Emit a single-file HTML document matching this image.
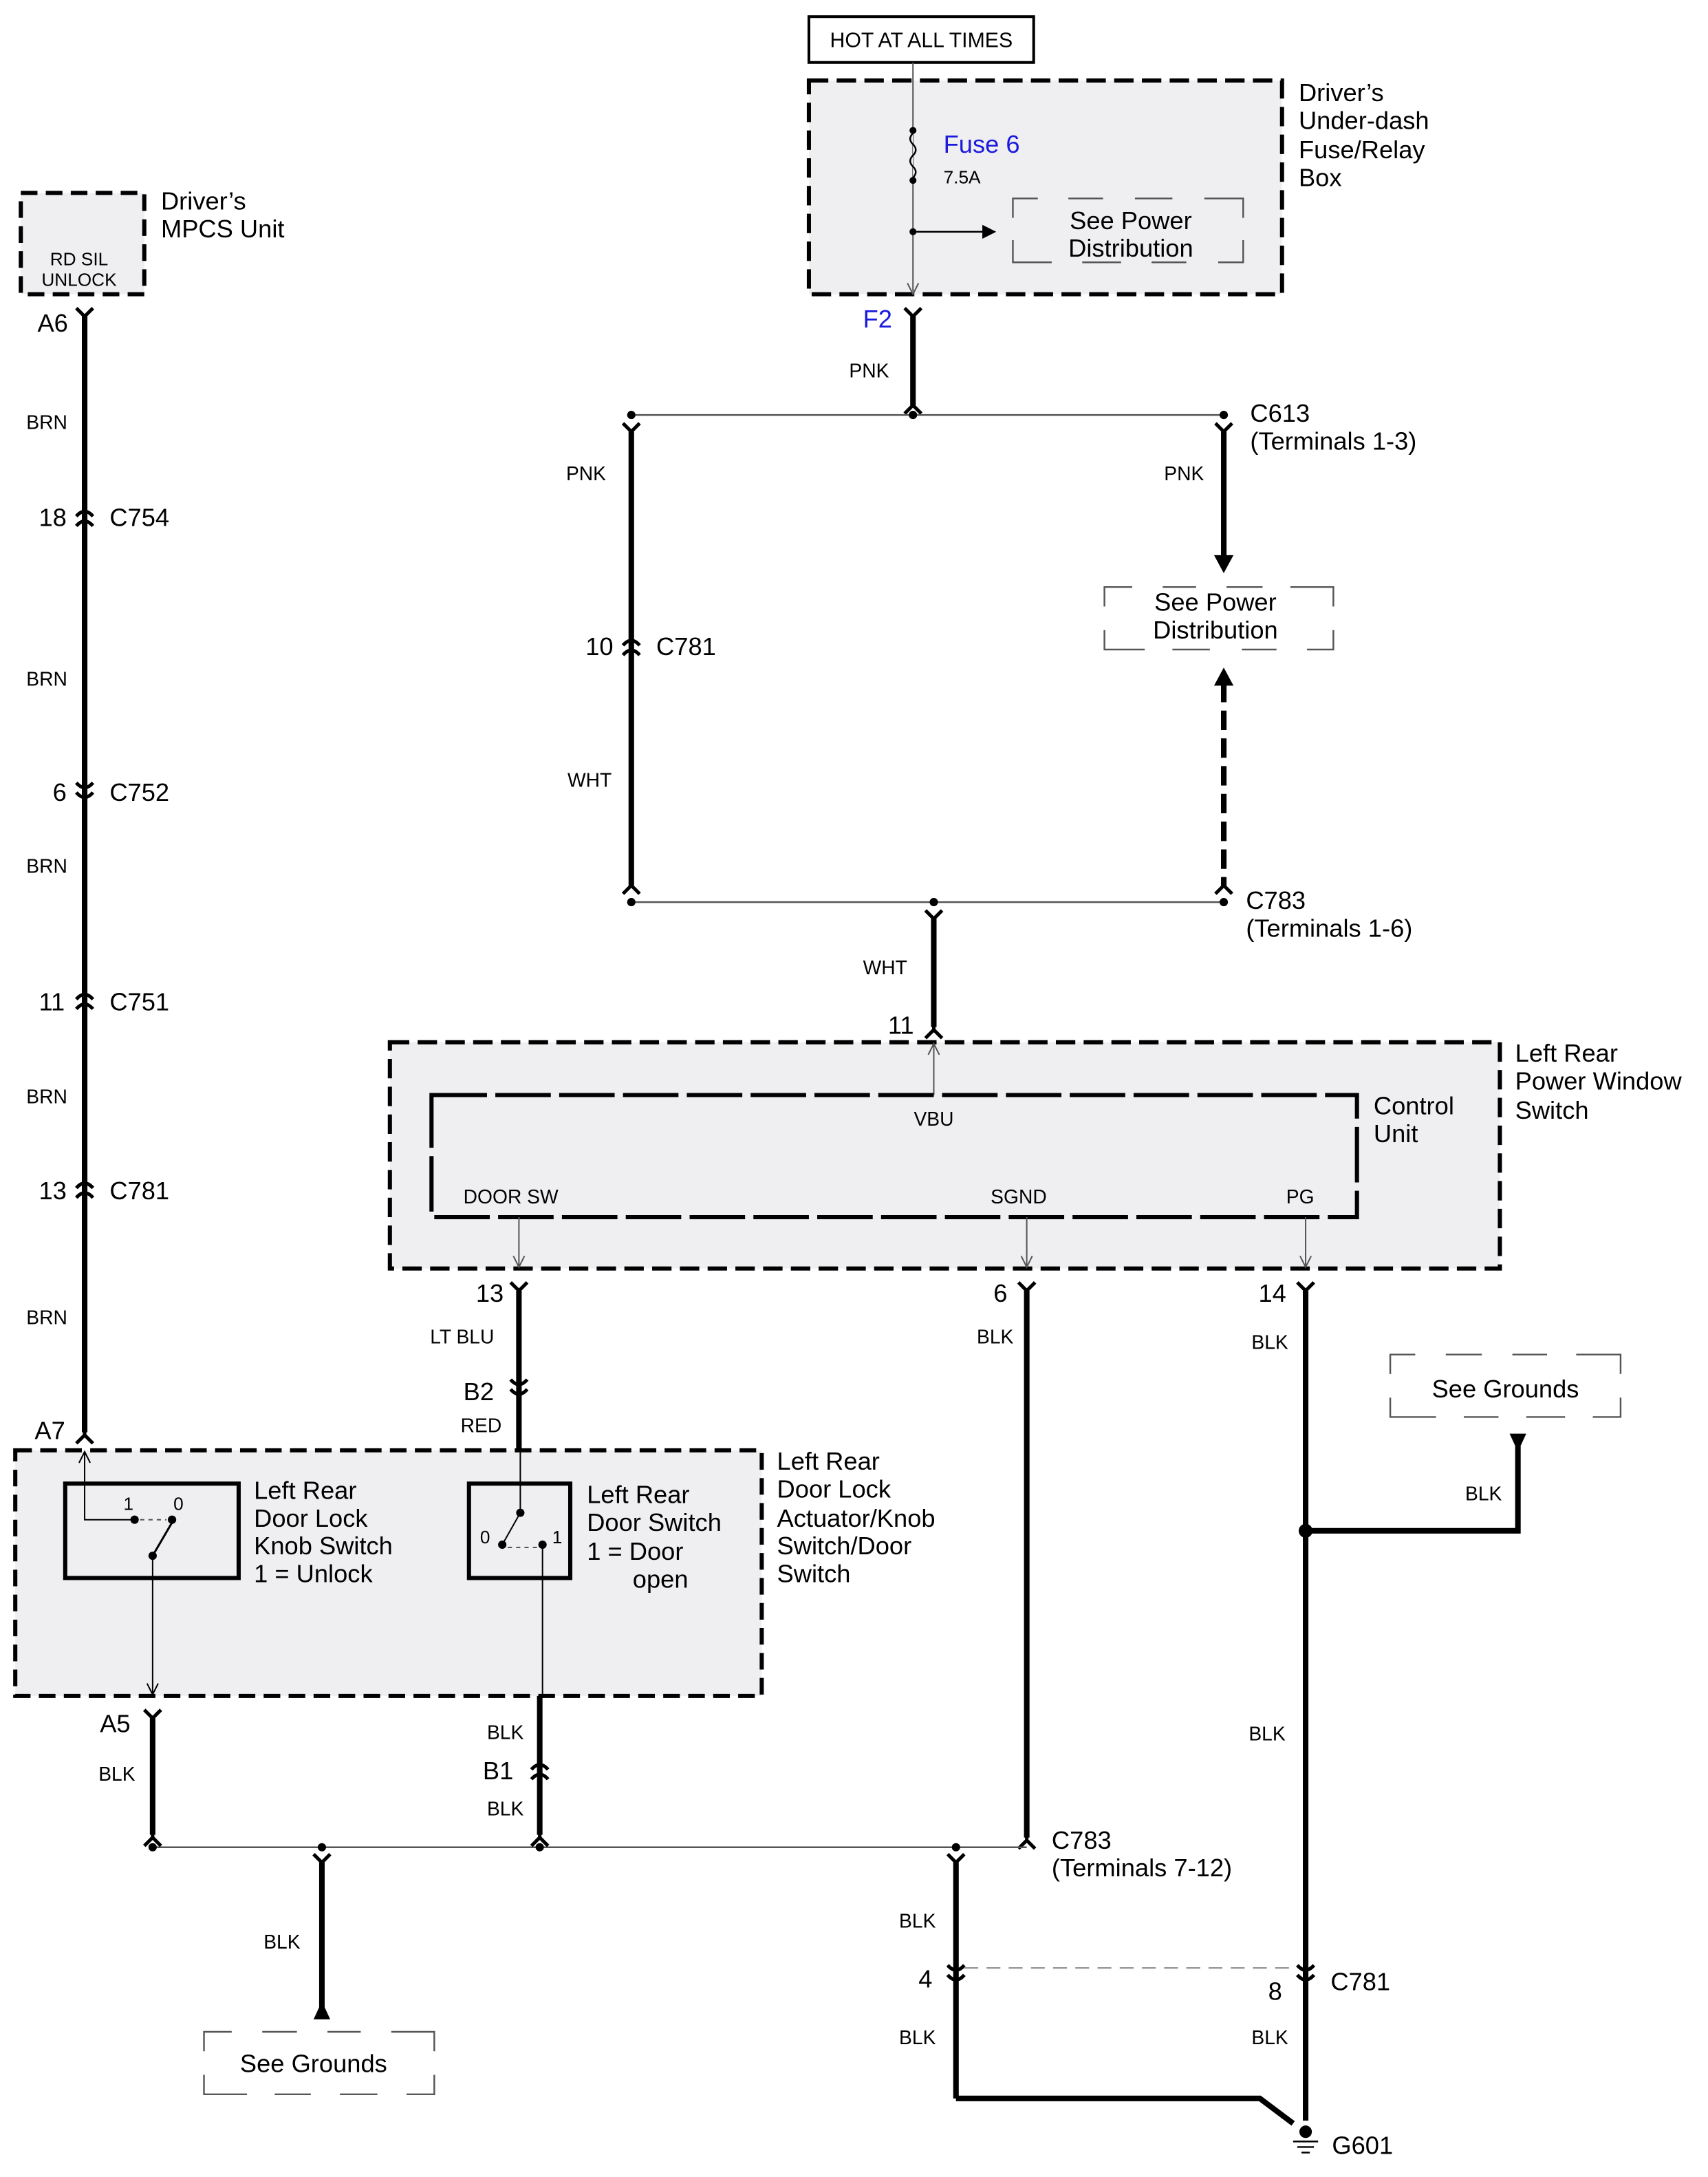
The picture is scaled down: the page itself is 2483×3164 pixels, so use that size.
<!DOCTYPE html>
<html><head><meta charset="utf-8"><style>html,body{margin:0;padding:0;background:#fff}svg{display:block}</style></head><body>
<svg width="2483" height="3164" viewBox="0 0 1231 1568.6" preserveAspectRatio="none" xmlns="http://www.w3.org/2000/svg" font-family="Liberation Sans, sans-serif">
<defs>
<path id="fd" d="M-6,-6 L0,0 L6,-6 M0,0 L0,6" fill="none" stroke="#000" stroke-width="2.5"/>
<path id="fu" d="M-6,6 L0,0 L6,6 M0,0 L0,-6" fill="none" stroke="#000" stroke-width="2.5"/>
<path id="cu" d="M-6,-1 Q0,-8 6,-1 M-6,6 Q0,-1 6,6" fill="none" stroke="#000" stroke-width="2.5"/>
<path id="cd" d="M-6,-6 Q0,1 6,-6 M-6,1 Q0,8 6,1" fill="none" stroke="#000" stroke-width="2.5"/>
</defs>
<rect width="1231" height="1568.6" fill="#fff"/>
<g font-size="18" fill="#000">
<!-- top fuse box -->
<rect x="583" y="12" width="162" height="33" fill="#fff" stroke="#000" stroke-width="2"/>
<text x="664" y="34" font-size="15" text-anchor="middle">HOT AT ALL TIMES</text>
<rect x="583" y="58" width="341" height="154" fill="#efeef0" stroke="#000" stroke-width="3" stroke-dasharray="14,6"/>
<line x1="658" y1="45" x2="658" y2="210" stroke="#555" stroke-width="1"/>
<path d="M654,204 L658,212 L662,204" fill="none" stroke="#555" stroke-width="1"/>
<circle cx="658" cy="94" r="2.5"/><circle cx="658" cy="130" r="2.5"/>
<path d="M658,96 q-4,4 0,8 q4,4 0,8 q-4,4 0,8 q4,4 0,8" fill="#efeef0" stroke="#000" stroke-width="1.2"/>
<circle cx="658" cy="167" r="2.5"/>
<line x1="658" y1="167" x2="710" y2="167" stroke="#000" stroke-width="1.2"/>
<path d="M708,162 L718,167 L708,172 Z"/>
<text x="680" y="110" fill="#1a1adc">Fuse 6</text>
<text x="680" y="132" font-size="13">7.5A</text>
<path d="M730,157 V143 H748 M770,143 H795 M818,143 H845 M868,143 H896 V157 M896,173 V189 H878 M855,189 H830 M808,189 H780 M758,189 H730 V173" fill="none" stroke="#555" stroke-width="1.2"/>
<text x="815" y="165" text-anchor="middle">See Power</text>
<text x="815" y="185" text-anchor="middle">Distribution</text>
<text x="936" y="73">Driver’s</text><text x="936" y="93">Under-dash</text><text x="936" y="114">Fuse/Relay</text><text x="936" y="134">Box</text>
<text x="622" y="236" fill="#1a1adc">F2</text>
<use href="#fd" x="658" y="228"/>
<line x1="658" y1="228" x2="658" y2="292" stroke="#000" stroke-width="4"/>
<use href="#fu" x="658" y="292"/>
<text x="612" y="272" font-size="14">PNK</text>
<line x1="455" y1="299" x2="882" y2="299" stroke="#555" stroke-width="1.2"/>
<circle cx="455" cy="299" r="3"/><circle cx="658" cy="299" r="3"/><circle cx="882" cy="299" r="3"/>
<!-- left PNK/WHT -->
<use href="#fd" x="455" y="311"/>
<line x1="455" y1="311" x2="455" y2="638" stroke="#000" stroke-width="4"/>
<use href="#cu" x="455" y="466"/>
<use href="#fu" x="455" y="638"/>
<text x="408" y="346" font-size="14">PNK</text>
<text x="422" y="472">10</text><text x="473" y="472">C781</text>
<text x="409" y="567" font-size="14">WHT</text>
<!-- right PNK -->
<use href="#fd" x="882" y="311"/>
<line x1="882" y1="311" x2="882" y2="402" stroke="#000" stroke-width="4"/>
<path d="M875,400 L882,413 L889,400 Z"/>
<text x="839" y="346" font-size="14">PNK</text>
<text x="901" y="304">C613</text><text x="901" y="324">(Terminals 1-3)</text>
<path d="M796,437 V423 H816 M838,423 H862 M884,423 H910 M930,423 H961 V437 M961,454 V468 H942 M920,468 H895 M872,468 H845 M825,468 H796 V454" fill="none" stroke="#555" stroke-width="1.2"/>
<text x="876" y="440" text-anchor="middle">See Power</text>
<text x="876" y="460" text-anchor="middle">Distribution</text>
<path d="M875,494 L882,481 L889,494 Z"/>
<line x1="882" y1="492" x2="882" y2="638" stroke="#000" stroke-width="4" stroke-dasharray="14,6"/>
<use href="#fu" x="882" y="638"/>
<text x="898" y="655">C783</text><text x="898" y="675">(Terminals 1-6)</text>
<line x1="455" y1="650" x2="882" y2="650" stroke="#555" stroke-width="1.2"/>
<circle cx="455" cy="650" r="3"/><circle cx="673" cy="650" r="3"/><circle cx="882" cy="650" r="3"/>
<use href="#fd" x="673" y="662"/>
<line x1="673" y1="662" x2="673" y2="740" stroke="#000" stroke-width="4"/>
<use href="#fu" x="673" y="742"/>
<text x="622" y="702" font-size="14">WHT</text>
<text x="640" y="745">11</text>
<line x1="673" y1="752" x2="673" y2="789" stroke="#555" stroke-width="1"/>
<path d="M669,760 L673,752 L677,760" fill="none" stroke="#555" stroke-width="1"/>
<!-- power window switch -->
<rect x="281" y="751" width="800" height="163" fill="#efeef0" stroke="#000" stroke-width="3" stroke-dasharray="14,6"/>
<line x1="673" y1="752" x2="673" y2="789" stroke="#555" stroke-width="1"/>
<path d="M669,760 L673,752 L677,760" fill="none" stroke="#555" stroke-width="1"/>
<rect x="311" y="789" width="667" height="88" fill="none" stroke="#000" stroke-width="3" stroke-dasharray="40,6"/>
<text x="1092" y="765">Left Rear</text><text x="1092" y="785">Power Window</text><text x="1092" y="806">Switch</text>
<text x="990" y="803">Control</text><text x="990" y="823">Unit</text>
<g font-size="14"><text x="673" y="811" text-anchor="middle">VBU</text><text x="334" y="867">DOOR SW</text><text x="714" y="867">SGND</text><text x="927" y="867">PG</text></g>
<g stroke="#555" stroke-width="1" fill="none">
<path d="M374,877 V913 M370,905 L374,913 L378,905"/>
<path d="M740,877 V913 M736,905 L740,913 L744,905"/>
<path d="M941,877 V913 M937,905 L941,913 L945,905"/>
</g>
<!-- 374 -->
<use href="#fd" x="374" y="930"/>
<line x1="374" y1="930" x2="374" y2="1045" stroke="#000" stroke-width="4"/>
<use href="#cd" x="374" y="1000"/>
<text x="343" y="938">13</text><text x="310" y="968" font-size="14">LT BLU</text>
<text x="334" y="1009">B2</text><text x="332" y="1032" font-size="14">RED</text>
<!-- 740 -->
<use href="#fd" x="740" y="930"/>
<line x1="740" y1="930" x2="740" y2="1324" stroke="#000" stroke-width="4"/>
<use href="#fu" x="740" y="1326"/>
<text x="716" y="938">6</text><text x="704" y="968" font-size="14">BLK</text>
<text x="758" y="1332">C783</text><text x="758" y="1352">(Terminals 7-12)</text>
<!-- 941 -->
<use href="#fd" x="941" y="930"/>
<line x1="941" y1="930" x2="941" y2="1528" stroke="#000" stroke-width="4"/>
<use href="#cd" x="941" y="1422"/>
<text x="907" y="938">14</text><text x="902" y="972" font-size="14">BLK</text>
<circle cx="941" cy="1103" r="5"/>
<path d="M941,1103 H1094 V1042" fill="none" stroke="#000" stroke-width="4"/>
<path d="M1088,1033 L1094,1046 L1100,1033 Z"/>
<text x="1056" y="1081" font-size="14">BLK</text>
<path d="M1002,990 V976 H1020 M1042,976 H1068 M1090,976 H1115 M1136,976 H1168 V990 M1168,1007 V1021 H1148 M1128,1021 H1100 M1080,1021 H1055 M1035,1021 H1002 V1007" fill="none" stroke="#555" stroke-width="1.2"/>
<text x="1085" y="1007" text-anchor="middle">See Grounds</text>
<text x="900" y="1254" font-size="14">BLK</text>
<text x="914" y="1441">8</text><text x="959" y="1434">C781</text>
<text x="902" y="1473" font-size="14">BLK</text>
<circle cx="941" cy="1536" r="4.5"/>
<path d="M932,1543 H950 M935,1547 H947 M938,1551 H944" stroke="#000" stroke-width="1.2"/>
<text x="960" y="1552">G601</text>
<!-- bottom bus -->
<line x1="110" y1="1331" x2="740" y2="1331" stroke="#555" stroke-width="1.2"/>
<circle cx="110" cy="1331" r="3"/><circle cx="232" cy="1331" r="3"/><circle cx="389" cy="1331" r="3"/><circle cx="689" cy="1331" r="3"/>
<use href="#fd" x="689" y="1342"/>
<line x1="689" y1="1342" x2="689" y2="1512" stroke="#000" stroke-width="4"/>
<use href="#cd" x="689" y="1422"/>
<text x="648" y="1389" font-size="14">BLK</text><text x="662" y="1432">4</text><text x="648" y="1473" font-size="14">BLK</text>
<line x1="695" y1="1418" x2="935" y2="1418" stroke="#999" stroke-width="1.2" stroke-dasharray="10,6"/>
<path d="M689,1512 H908 L932,1530" fill="none" stroke="#000" stroke-width="4"/>
<use href="#fd" x="232" y="1342"/>
<line x1="232" y1="1342" x2="232" y2="1447" stroke="#000" stroke-width="4"/>
<path d="M226,1455 L232,1442 L238,1455 Z"/>
<text x="190" y="1404" font-size="14">BLK</text>
<path d="M147,1478 V1464 H167 M189,1464 H214 M236,1464 H260 M282,1464 H313 V1478 M313,1495 V1509 H293 M272,1509 H245 M224,1509 H198 M178,1509 H147 V1495" fill="none" stroke="#555" stroke-width="1.2"/>
<text x="226" y="1493" text-anchor="middle">See Grounds</text>
<!-- left column -->
<rect x="15" y="139" width="89" height="73" fill="#efeef0" stroke="#000" stroke-width="3" stroke-dasharray="12,6"/>
<text x="57" y="191" font-size="13" text-anchor="middle">RD SIL</text><text x="57" y="206" font-size="13" text-anchor="middle">UNLOCK</text>
<text x="116" y="151">Driver’s</text><text x="116" y="171">MPCS Unit</text>
<use href="#fd" x="61" y="228"/>
<line x1="61" y1="228" x2="61" y2="1032" stroke="#000" stroke-width="4"/>
<use href="#fu" x="61" y="1034"/>
<text x="27" y="239">A6</text><text x="25" y="1037">A7</text>
<g font-size="14"><text x="19" y="309">BRN</text><text x="19" y="494">BRN</text><text x="19" y="629">BRN</text><text x="19" y="795">BRN</text><text x="19" y="954">BRN</text></g>
<use href="#cu" x="61" y="373"/><text x="28" y="379">18</text><text x="79" y="379">C754</text>
<use href="#cd" x="61" y="570"/><text x="38" y="577">6</text><text x="79" y="577">C752</text>
<use href="#cu" x="61" y="721"/><text x="28" y="728">11</text><text x="79" y="728">C751</text>
<use href="#cu" x="61" y="857"/><text x="28" y="864">13</text><text x="79" y="864">C781</text>
<!-- bottom component -->
<rect x="11" y="1045" width="538" height="177" fill="#efeef0" stroke="#000" stroke-width="3" stroke-dasharray="12,6"/>
<text x="560" y="1059">Left Rear</text><text x="560" y="1079">Door Lock</text><text x="560" y="1100">Actuator/Knob</text><text x="560" y="1120">Switch/Door</text><text x="560" y="1140">Switch</text>
<rect x="47" y="1069" width="125" height="68" fill="none" stroke="#000" stroke-width="3"/>
<g stroke="#000" stroke-width="1" fill="none">
<path d="M61,1046 V1095 H97 M57,1054 L61,1046 L65,1054"/>
<path d="M110,1121 V1221 M106,1213 L110,1221 L114,1213"/>
<path d="M110,1121 L124,1097" stroke-width="1.5"/>
<path d="M101,1095 H120" stroke-dasharray="3,3" stroke="#555"/>
<path d="M375,1046 V1090 L362,1113" />
<path d="M391,1113 V1222"/>
<path d="M366,1115 H387" stroke-dasharray="3,3" stroke="#555"/>
</g>
<circle cx="97" cy="1095" r="3"/><circle cx="124" cy="1095" r="3"/><circle cx="110" cy="1121" r="3"/>
<text x="89" y="1088" font-size="13">1</text><text x="125" y="1088" font-size="13">0</text>
<text x="183" y="1080">Left Rear</text><text x="183" y="1100">Door Lock</text><text x="183" y="1120">Knob Switch</text><text x="183" y="1140">1 = Unlock</text>
<rect x="338" y="1069" width="73" height="68" fill="none" stroke="#000" stroke-width="3"/>
<circle cx="375" cy="1090" r="3"/><circle cx="362" cy="1113" r="3"/><circle cx="391" cy="1113" r="3"/>
<text x="346" y="1112" font-size="13">0</text><text x="398" y="1112" font-size="13">1</text>
<text x="423" y="1083">Left Rear</text><text x="423" y="1103">Door Switch</text><text x="423" y="1124">1 = Door</text><text x="456" y="1144">open</text>
<use href="#fd" x="110" y="1238"/>
<line x1="110" y1="1238" x2="110" y2="1322" stroke="#000" stroke-width="4"/>
<use href="#fu" x="110" y="1324"/>
<text x="72" y="1248">A5</text><text x="71" y="1283" font-size="14">BLK</text>
<line x1="389" y1="1222" x2="389" y2="1322" stroke="#000" stroke-width="4"/>
<use href="#fu" x="389" y="1324"/>
<use href="#cu" x="389" y="1276"/>
<text x="351" y="1253" font-size="14">BLK</text><text x="348" y="1282">B1</text><text x="351" y="1308" font-size="14">BLK</text>
</g>
</svg>
</body></html>
